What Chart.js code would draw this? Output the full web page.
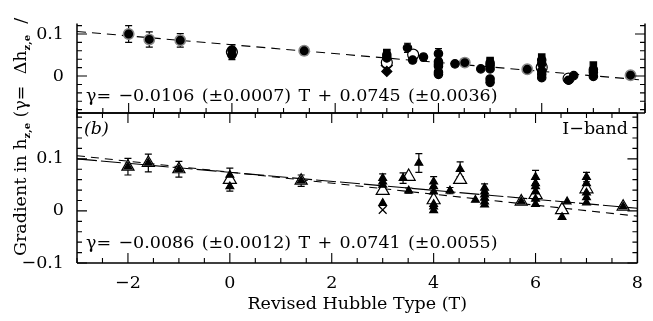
<!DOCTYPE html>
<html>
<head>
<meta charset="utf-8">
<script src="https://cdn.jsdelivr.net/npm/chart.js@4.4.1/dist/chart.umd.min.js"></script>
<style>
  html, body { margin: 0; padding: 0; background: #fff; }
  #wrap { position: relative; width: 653px; height: 321px; }
  #wrap canvas { position: absolute; left: 0; top: 0; }
</style>
</head>
<body>
<div id="wrap">
  <canvas id="panelA" width="653" height="321"></canvas>
  <canvas id="panelB" width="653" height="321"></canvas>
</div>
<script>
// ---- data: panel (a), top ----
const topFilledT = [0, 0, 3, 3, 3.4, 3.5, 3.71, 4, 4, 4, 4, 4, 4, 4.32, 4.82, 5, 5, 5, 5, 5, 6, 6, 6, 6, 6, 6.52, 6.62, 7, 7, 7];
const topFilledY = [0.062, 0.050, 0.050, 0.043, 0.067, 0.038, 0.045, 0.053, 0.034, 0.028, 0.023, 0.009, 0.004, 0.029, 0.017, 0.031, 0.025, 0.017, -0.007, -0.015, 0.038, 0.029, 0.012, 0.004, -0.004, -0.010, 0.001, 0.015, 0.009, -0.001];
const topFilledErr = [0, 0, 0.012, 0, 0.011, 0.006, 0.007, 0.012, 0, 0, 0, 0, 0, 0.005, 0, 0.010, 0, 0, 0, 0, 0.009, 0, 0, 0, 0, 0, 0, 0, 0, 0];
const topRingT = [-2, -1.6, -1, 1.4, 4.51, 5.72, 7.72];
const topRingY = [0.100, 0.087, 0.085, 0.060, 0.032, 0.016, 0.002];
const topRingErr = [0.020, 0.018, 0.016, 0.010, 0, 0, 0];
const topOpenT = [0, 3, 3.51, 6, 6.52];
const topOpenY = [0.057, 0.032, 0.051, 0.021, -0.006];
const topOpenErr = [0.018, 0, 0, 0, 0];
const topSquareT = [3, 5, 6, 7];
const topSquareY = [0.056, 0.037, 0.045, 0.026];
const topDiamondT = [3];
const topDiamondY = [0.011];
const topOpenDiamondT = [3];
const topOpenDiamondY = [0.025];
const topFitT = [-3, 8];
const topFitY = [0.106, -0.010];   // gamma = -0.0106 T + 0.0745

// ---- data: panel (b), bottom, I-band ----
const botFilledT = [0, 0, 3, 3, 3, 3, 3.4, 3.51, 3.71, 4, 4, 4, 4, 4, 4, 4.32, 4.52, 4.82, 5, 5, 5, 5, 5, 5, 6, 6, 6, 6, 6, 6, 6.52, 6.62, 7, 7, 7, 7, 7];
const botFilledY = [0.069, 0.047, 0.063, 0.056, 0.050, 0.015, 0.063, 0.039, 0.092, 0.056, 0.047, 0.037, 0.013, 0.008, 0.001, 0.039, 0.080, 0.021, 0.044, 0.037, 0.031, 0.025, 0.018, 0.012, 0.065, 0.053, 0.047, 0.037, 0.023, 0.013, -0.012, 0.018, 0.065, 0.053, 0.035, 0.026, 0.016];
const botFilledErr = [0, 0, 0.008, 0, 0, 0, 0.010, 0.005, 0.018, 0.010, 0, 0, 0, 0, 0, 0.006, 0.014, 0, 0.008, 0, 0, 0, 0, 0, 0.013, 0, 0, 0, 0, 0, 0, 0, 0.009, 0, 0, 0, 0];
const botRingT = [-2, -1.6, -1, 1.4, 5.72, 7.72];
const botRingY = [0.085, 0.092, 0.080, 0.058, 0.018, 0.008];
const botRingErr = [0.016, 0.017, 0.015, 0.011, 0, 0];
const botOpenT = [0, 3, 3.51, 4, 4.52, 6, 6.52, 7];
const botOpenY = [0.060, 0.039, 0.066, 0.021, 0.060, 0.031, 0.002, 0.042];
const botOpenErr = [0.022, 0, 0, 0, 0, 0, 0, 0];
const botCrossT = [3];
const botCrossY = [0.002];
const botFitT = [-3, 8];
const botFitY = [0.100, 0.005];      // gamma = -0.0086 T + 0.0741
const botRefFitY = [0.106, -0.010];  // panel (a) fit, repeated

const xTickVals = [-2, 0, 2, 4, 6, 8];
const topYTickVals = [0, 0.1];
const botYTickVals = [-0.1, 0, 0.1];

const FONT = '"DejaVu Serif", "Liberation Serif", serif';
const SIZE = 17.5;
const fnt = { family: FONT, size: SIZE };
const GAP = ' \u200a';  // wide PGPLOT-like word gaps

function pts(xs, ys) { return xs.map((x, i) => ({ x: x, y: ys[i] })); }
function minus(v) { return v < 0 ? '\u2212' + Math.abs(v) : String(v); }

function markers(label, xs, ys, style, radius, fill, err, extra) {
  return Object.assign({
    label: label, data: pts(xs, ys), showLine: false,
    pointStyle: style, pointRadius: radius, pointHoverRadius: radius,
    backgroundColor: fill, borderColor: '#000', pointBorderWidth: 1.2,
    err: err || null
  }, extra || {});
}
function fitLine(label, xs, ys, dash) {
  return {
    label: label, data: pts(xs, ys), showLine: true, pointRadius: 0,
    borderColor: '#000', borderWidth: 1.1, borderDash: dash, fill: false
  };
}

// error bars, inward ticks, frame, and text
const errorBars = {
  id: 'errorBars',
  beforeDatasetsDraw(chart) {
    const { ctx, scales: { x, y } } = chart;
    ctx.save();
    ctx.strokeStyle = '#000';
    ctx.lineWidth = 1.2;
    chart.data.datasets.forEach(ds => {
      if (!ds.err) return;
      ds.data.forEach((p, i) => {
        const e = ds.err[i];
        if (!e) return;
        const px = x.getPixelForValue(p.x);
        const y1 = y.getPixelForValue(p.y + e), y2 = y.getPixelForValue(p.y - e);
        ctx.beginPath();
        ctx.moveTo(px, y1); ctx.lineTo(px, y2);
        ctx.moveTo(px - 3.5, y1); ctx.lineTo(px + 3.5, y1);
        ctx.moveTo(px - 3.5, y2); ctx.lineTo(px + 3.5, y2);
        ctx.stroke();
      });
    });
    ctx.restore();
  }
};

const frame = {
  id: 'frame',
  afterDraw(chart, args, o) {
    const { ctx, chartArea: a, scales: { x, y } } = chart;
    ctx.save();
    ctx.strokeStyle = '#000';
    ctx.lineWidth = 1.5;
    ctx.beginPath();
    ctx.moveTo(a.left, a.top); ctx.lineTo(a.left, a.bottom);
    ctx.moveTo(a.right, a.top); ctx.lineTo(a.right, a.bottom);
    ctx.moveTo(a.left, a.bottom); ctx.lineTo(a.right, a.bottom);
    if (o.topEdge) { ctx.moveTo(a.left, a.top); ctx.lineTo(a.right, a.top); }
    ctx.stroke();
    ctx.lineWidth = 1.1;
    ctx.beginPath();
    for (let k = -6; k <= 16; k++) {
      const v = k / 2;
      if (v < x.min || v > x.max) continue;
      const px = x.getPixelForValue(v);
      const len = (k % 4 === 0) ? 10 : 5;
      ctx.moveTo(px, a.bottom); ctx.lineTo(px, a.bottom - len);
      if (o.topEdge) { ctx.moveTo(px, a.top); ctx.lineTo(px, a.top + len); }
    }
    for (let k = -5; k <= 10; k++) {
      const v = k * 0.02;
      if (v < y.min - 1e-9 || v > y.max) continue;
      const py = y.getPixelForValue(v);
      const len = (k % 5 === 0) ? 10 : 5;
      ctx.moveTo(a.left, py); ctx.lineTo(a.left + len, py);
      ctx.moveTo(a.right, py); ctx.lineTo(a.right - len, py);
    }
    ctx.stroke();
    ctx.fillStyle = '#000';
    (o.notes || []).forEach(n => {
      ctx.font = n.font;
      ctx.textAlign = n.align || 'left';
      ctx.textBaseline = 'middle';
      ctx.fillText(n.text, n.x, n.y);
    });
    if (o.yTitle) {
      ctx.translate(o.yTitle.x, o.yTitle.y);
      ctx.rotate(-Math.PI / 2);
      ctx.textAlign = 'left';
      ctx.textBaseline = 'alphabetic';
      let pos = 0;
      o.yTitle.parts.forEach(([t, sub]) => {
        ctx.font = sub ? 'bold 10px ' + FONT : SIZE + 'px ' + FONT;
        ctx.fillText(t, pos, sub ? 4 : 0);
        pos += ctx.measureText(t).width;
      });
    }
    ctx.restore();
  }
};

Chart.defaults.animation = false;
Chart.defaults.color = '#000';

function yScale(min, max, tickVals) {
  return {
    type: 'linear', min: min, max: max,
    grid: { display: false, drawTicks: false }, border: { display: false },
    ticks: { font: fnt, color: '#000', padding: 13, callback: v => minus(v) },
    afterBuildTicks: s => { s.ticks = tickVals.map(v => ({ value: v })); },
    afterFit: s => { s.width = 77; }
  };
}

function eq(slope, se, icpt, ie) {
  return ['\u03b3=', '\u2212' + slope, '(\u00b1' + se + ')', 'T', '+', icpt, '(\u00b1' + ie + ')'].join(GAP);
}

new Chart(document.getElementById('panelA'), {
  type: 'scatter',
  data: {
    datasets: [
      markers('filled', topFilledT, topFilledY, 'circle', 4.2, '#000', topFilledErr),
      markers('square', topSquareT, topSquareY, 'rect', 4.5, '#000'),
      markers('diamond', topDiamondT, topDiamondY, 'rectRot', 5, '#000'),
      markers('ringed', topRingT, topRingY, 'circle', 5.2, '#000', topRingErr, { borderColor: '#888', pointBorderWidth: 1.5 }),
      markers('open', topOpenT, topOpenY, 'circle', 5.5, '#fff', topOpenErr),
      markers('openDiamond', topOpenDiamondT, topOpenDiamondY, 'rectRot', 5.5, '#fff'),
      fitLine('fit', topFitT, topFitY, [9, 6])
    ]
  },
  options: {
    responsive: false,
    devicePixelRatio: 1,
    layout: { padding: { left: 0, right: 8, top: 0, bottom: 208 } },
    plugins: {
      legend: { display: false }, tooltip: { enabled: false },
      frame: {
        topEdge: false,
        notes: [
          { text: eq('0.0106', '0.0007', '0.0745', '0.0036'), x: 86, y: 96, font: SIZE + 'px ' + FONT }
        ],
        yTitle: {
          x: 26, y: 256,
          parts: [['Gradient in h', false], ['z,e', true], [' (\u03b3=  \u0394h', false], ['z,e', true], ['  /', false]]
        }
      }
    },
    scales: {
      x: { type: 'linear', min: -3, max: 8, display: false },
      y: yScale(-0.088, 0.125, topYTickVals)
    }
  },
  plugins: [errorBars, frame]
});

new Chart(document.getElementById('panelB'), {
  type: 'scatter',
  data: {
    datasets: [
      markers('filled', botFilledT, botFilledY, 'triangle', 4.5, '#000', botFilledErr),
      markers('ringFill', botRingT, botRingY, 'triangle', 4.5, '#000', botRingErr),
      markers('ringOpen', botRingT, botRingY, 'triangle', 7, '#fff'),
      markers('open', botOpenT, botOpenY, 'triangle', 7.5, '#fff', botOpenErr),
      markers('cross', botCrossT, botCrossY, 'crossRot', 5.5, '#000'),
      fitLine('fit', botFitT, botFitY, [20, 4]),
      fitLine('fitA', botFitT, botRefFitY, [8, 6])
    ]
  },
  options: {
    responsive: false,
    devicePixelRatio: 1,
    layout: { padding: { left: 0, right: 8, top: 113, bottom: 0 } },
    plugins: {
      legend: { display: false }, tooltip: { enabled: false },
      frame: {
        topEdge: true,
        notes: [
          { text: '(b)', x: 84, y: 129, font: 'italic ' + SIZE + 'px ' + FONT },
          { text: 'I\u2212band', x: 628, y: 129, font: SIZE + 'px ' + FONT, align: 'right' },
          { text: eq('0.0086', '0.0012', '0.0741', '0.0055'), x: 86, y: 243, font: SIZE + 'px ' + FONT }
        ]
      }
    },
    scales: {
      x: {
        type: 'linear', min: -3, max: 8, position: 'bottom',
        grid: { display: false, drawTicks: false }, border: { display: false },
        ticks: { font: fnt, color: '#000', padding: 10, maxRotation: 0, autoSkip: false, callback: v => minus(v) },
        afterBuildTicks: s => { s.ticks = xTickVals.map(v => ({ value: v })); },
        afterFit: s => { s.height = 58; },
        title: { display: true, text: 'Revised Hubble Type (T)', font: fnt, color: '#000', padding: { top: 0, bottom: 6 } }
      },
      y: yScale(-0.1, 0.188, botYTickVals)
    }
  },
  plugins: [errorBars, frame]
});
</script>
</body>
</html>
